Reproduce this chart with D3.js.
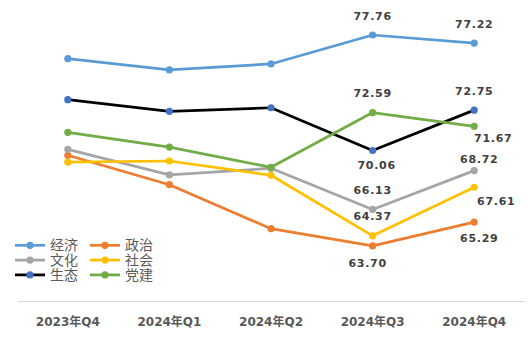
<!DOCTYPE html>
<html>
<head>
<meta charset="utf-8">
<script src="https://cdn.jsdelivr.net/npm/d3@7/dist/d3.min.js"></script>
<style>
  html, body { margin: 0; padding: 0; background: #fff; }
  svg { display: block; }
</style>
</head>
<body>
<svg id="chart" width="528" height="342"></svg>
<script>
// Quarterly index scores by dimension
const quarters = ["2023年Q4", "2024年Q1", "2024年Q2", "2024年Q3", "2024年Q4"];
const seriesNames = ["经济", "政治", "文化", "社会", "生态", "党建"];
const economy  = [76.18, 75.43, 75.83, 77.76, 77.22];
const politics = [69.74, 67.78, 64.85, 63.70, 65.29];
const culture  = [70.14, 68.43, 68.87, 66.13, 68.72];
const society  = [69.29, 69.36, 68.41, 64.37, 67.61];
const ecology  = [73.45, 72.67, 72.91, 70.06, 72.75];
const party    = [71.27, 70.29, 68.94, 72.59, 71.67];
const yDomain = [60, 80];

const values = [economy, politics, culture, society, ecology, party];
const lineColors = ["#5B9BD5", "#ED7D31", "#A5A5A5", "#FFC000", "#000000", "#70AD47"];
const dotColors  = ["#5B9BD5", "#ED7D31", "#A5A5A5", "#FFC000", "#4472C4", "#70AD47"];

// label placement (dx, dy of the text centre relative to its point) for the last two quarters
const labelOffsets = {
  "经济": [[0, -19.5], [0, -19.5]],
  "政治": [[-5, 17], [5, 15.5]],
  "文化": [[0, -19], [5, -11.5]],
  "社会": [[0, -19.5], [22, 14]],
  "生态": [[4, 14.5], [0, -19.5]],
  "党建": [[0, -19.5], [19, 11.5]]
};

const svg = d3.select("#chart");

const x = d3.scaleBand().domain(quarters).range([17, 525]);
const y = d3.scaleLinear().domain(yDomain).range([301.4, 1.4]);
const cx = d => x(d) + x.bandwidth() / 2;

// category axis
const axis = svg.append("g")
  .attr("transform", "translate(0,301)")
  .call(d3.axisBottom(x).tickSize(0).tickSizeOuter(0).tickPadding(16));
axis.select(".domain").attr("stroke", "#D9D9D9").attr("stroke-width", 1);
axis.selectAll("text")
  .attr("fill", "#595959")
  .style("font-family", "'DejaVu Sans', 'Noto Sans CJK SC', sans-serif")
  .style("font-weight", "bold")
  .style("font-size", "12px");

const line = d3.line()
  .x((d, i) => cx(quarters[i]))
  .y(d => y(d));

const seriesData = seriesNames.map((name, k) => ({
  name, vals: values[k], line: lineColors[k], dot: dotColors[k]
}));

const groups = svg.append("g").selectAll("g")
  .data(seriesData)
  .join("g");

groups.append("path")
  .attr("d", d => line(d.vals))
  .attr("fill", "none")
  .attr("stroke", d => d.line)
  .attr("stroke-width", 2.75)
  .attr("stroke-linejoin", "round");

groups.selectAll("circle")
  .data(d => d.vals.map((v, i) => ({ v, i, c: d.dot })))
  .join("circle")
  .attr("cx", d => cx(quarters[d.i]))
  .attr("cy", d => y(d.v))
  .attr("r", 3.6)
  .attr("fill", d => d.c);

// value labels on the last two quarters
const labelData = [];
seriesData.forEach(s => {
  [3, 4].forEach((i, j) => {
    const off = labelOffsets[s.name][j];
    labelData.push({ v: s.vals[i], x: cx(quarters[i]) + off[0], y: y(s.vals[i]) + off[1] });
  });
});
svg.append("g").selectAll("text")
  .data(labelData)
  .join("text")
  .attr("x", d => d.x)
  .attr("y", d => d.y + 4)
  .attr("text-anchor", "middle")
  .attr("fill", "#404040")
  .style("font-family", "'DejaVu Sans', sans-serif")
  .style("font-weight", "bold")
  .style("font-size", "11px")
  .style("letter-spacing", "0.7px")
  .text(d => d.v.toFixed(2));

// legend: two columns, three rows
const legend = svg.append("g");
const legendItems = legend.selectAll("g")
  .data(seriesData)
  .join("g")
  .attr("transform", (d, k) => `translate(${k % 2 === 0 ? 15 : 90},${245.3 + Math.floor(k / 2) * 14.8})`);
legendItems.append("line")
  .attr("x1", 0).attr("x2", 30)
  .attr("stroke", d => d.line)
  .attr("stroke-width", 2.75);
legendItems.append("circle")
  .attr("cx", 15).attr("r", 3.6)
  .attr("fill", d => d.dot);
legendItems.append("text")
  .attr("x", 35)
  .attr("y", 5)
  .attr("fill", "#595959")
  .style("font-family", "'Noto Sans CJK SC', sans-serif")
  .style("font-size", "14px")
  .text(d => d.name);
</script>
</body>
</html>
